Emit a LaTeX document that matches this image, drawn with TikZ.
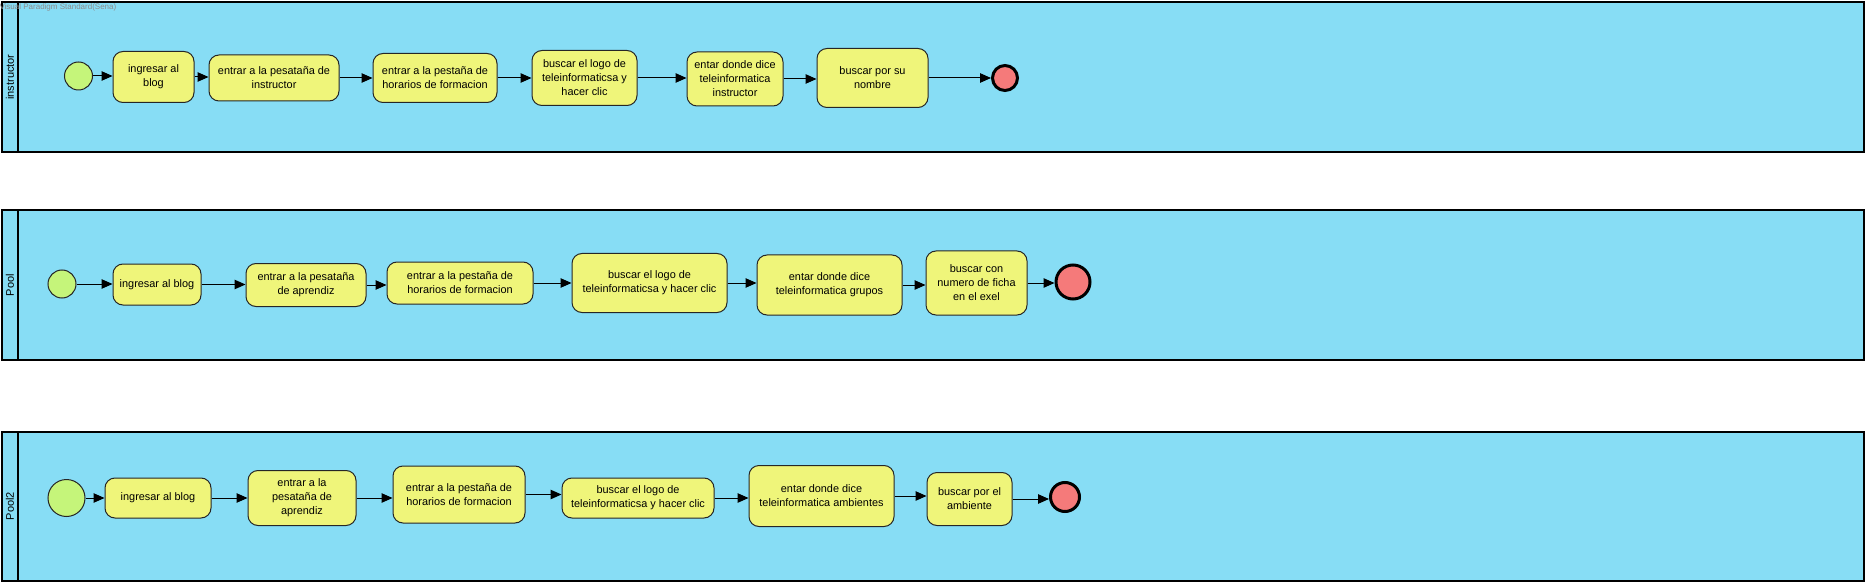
\documentclass[tikz,border=0pt]{standalone}
\usepackage{fontspec}
\setmainfont{Liberation Sans}
\usetikzlibrary{arrows.meta}

\definecolor{poolblue}{RGB}{135,221,245}
\definecolor{taskyellow}{RGB}{239,245,122}
\definecolor{startgreen}{RGB}{197,245,122}
\definecolor{endred}{RGB}{245,122,122}

\tikzset{every picture/.style={line width=1pt},
  task/.style={draw=black!85, fill=taskyellow, rounded corners=10pt, align=center, inner sep=1pt, font=\fontsize{10.9}{14}\selectfont},
  startev/.style={circle, draw=black!85, fill=startgreen, inner sep=0pt},
  endev/.style={circle, draw=black, line width=3pt, fill=endred, inner sep=0pt},
  lane/.style={draw=black, line width=1.5pt, fill=poolblue},
  lanelabel/.style={rotate=90, inner sep=0pt, font=\fontsize{11}{13}\selectfont},
  flow/.style={-{Triangle[length=11pt,width=9.5pt]}, line width=1pt}}

\begin{document}
\begin{tikzpicture}[x=1pt,y=1pt,yscale=-1,xscale=1]
\path[use as bounding box] (0,0) rectangle (1867,585);

%Shape: Pool instructor
\draw[lane] (2,2) rectangle (1864,152);
\draw[line width=1.5pt] (18,2) -- (18,152);
\node[lanelabel] (lab1) at (10,77) {instructor};
%Shape: Pool
\draw[lane] (2,210) rectangle (1864,360);
\draw[line width=1.5pt] (18,210) -- (18,360);
\node[lanelabel] (lab2) at (10,285) {Pool};
%Shape: Pool2
\draw[lane] (2,432) rectangle (1864,581);
\draw[line width=1.5pt] (18,432) -- (18,581);
\node[lanelabel] (lab3) at (10,506) {Pool2};

% Text Node
\node[anchor=west, inner sep=0pt, text=black!45, font=\fontsize{8}{9}\selectfont] (vp) at (-1,7.5) {Visual Paradigm Standard(Sena)};

% Lane instructor
\node[startev, minimum size=28pt] (s1) at (78.5,76) {};
\node[task, minimum width=81pt, minimum height=51pt] (t11) at (153.5,77) {ingresar al\\blog};
\node[task, minimum width=130pt, minimum height=46pt] (t12) at (274,78) {entrar a la pesataña de\\instructor};
\node[task, minimum width=124pt, minimum height=49pt] (t13) at (435,78) {entrar a la pestaña de\\horarios de formacion};
\node[task, minimum width=105pt, minimum height=55pt] (t14) at (584.5,78) {buscar el logo de\\teleinformaticsa y\\hacer clic};
\node[task, minimum width=96pt, minimum height=54pt] (t15) at (735,79) {entar donde dice\\teleinformatica\\instructor};
\node[task, minimum width=111pt, minimum height=59pt] (t16) at (872.5,78) {buscar por su\\nombre};
\node[endev, minimum size=25pt] (e1) at (1005,78) {};

% Lane Pool
\node[startev, minimum size=28pt] (s2) at (62,284) {};
\node[task, minimum width=88pt, minimum height=41pt] (t21) at (157,284.5) {ingresar al blog};
\node[task, minimum width=120pt, minimum height=43pt] (t22) at (306,285) {entrar a la pesataña\\de aprendiz};
\node[task, minimum width=146pt, minimum height=42pt] (t23) at (460,283) {entrar a la pestaña de\\horarios de formacion};
\node[task, minimum width=155pt, minimum height=59pt] (t24) at (649.5,283) {buscar el logo de\\teleinformaticsa y hacer clic};
\node[task, minimum width=145pt, minimum height=60pt] (t25) at (829.5,285) {entar donde dice\\teleinformatica grupos};
\node[task, minimum width=101pt, minimum height=64pt] (t26) at (976.5,283) {buscar con\\numero de ficha\\en el exel};
\node[endev, minimum size=34pt] (e2) at (1073,282) {};

% Lane Pool2
\node[startev, minimum size=37pt] (s3) at (66.5,498) {};
\node[task, minimum width=106pt, minimum height=40pt] (t31) at (158,498) {ingresar al blog};
\node[task, minimum width=108pt, minimum height=55pt] (t32) at (302,498) {entrar a la\\pesataña de\\aprendiz};
\node[task, minimum width=132pt, minimum height=57pt] (t33) at (459,494.5) {entrar a la pestaña de\\horarios de formacion};
\node[task, minimum width=152pt, minimum height=40pt] (t34) at (638,498) {buscar el logo de\\teleinformaticsa y hacer clic};
\node[task, minimum width=145pt, minimum height=61pt] (t35) at (821.5,496) {entar donde dice\\teleinformatica ambientes};
\node[task, minimum width=85pt, minimum height=53pt] (t36) at (969.5,499) {buscar por el\\ambiente};
\node[endev, minimum size=29pt] (e3) at (1065,497) {};

% Sequence flows
\foreach \a/\b in {s1/t11,t11/t12,t12/t13,t13/t14,t14/t15,t15/t16,t16/e1,
                   s2/t21,t21/t22,t22/t23,t23/t24,t24/t25,t25/t26,t26/e2,
                   s3/t31,t31/t32,t32/t33,t33/t34,t34/t35,t35/t36,t36/e3}
  \draw[flow] (\a.east) -- (\a.east -| \b.west);

\end{tikzpicture}
\end{document}
